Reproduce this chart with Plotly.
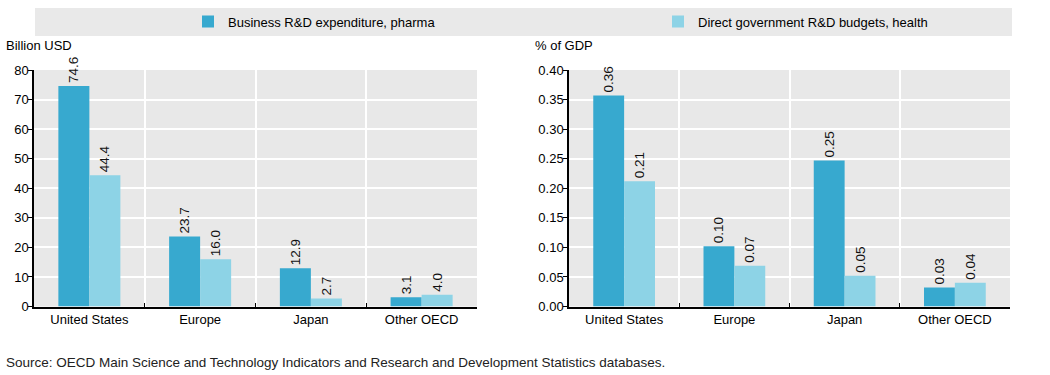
import plotly.graph_objects as go

categories = ["United States", "Europe", "Japan", "Other OECD"]
series_names = ["Business R&D expenditure, pharma", "Direct government R&D budgets, health"]
usd_business = [74.6, 23.7, 12.9, 3.1]
usd_government = [44.4, 16.0, 2.7, 4.0]
gdp_business = [0.357, 0.102, 0.247, 0.032]
gdp_government = [0.212, 0.069, 0.052, 0.040]
left_ticks = [0, 10, 20, 30, 40, 50, 60, 70, 80]
right_ticks = [0.0, 0.05, 0.10, 0.15, 0.20, 0.25, 0.30, 0.35, 0.40]

DARK = "#37A9CF"
LIGHT = "#8DD3E6"
FONT = "Liberation Sans"
W, H = 1050, 375

def px(x):
    return x / W

def py(y):
    return 1 - y / H

fig = go.Figure()

txtfont = dict(family=FONT, size=13.5, color="#111")

fig.add_trace(go.Bar(x=categories, y=usd_business, name=series_names[0], marker_color=DARK,
                     marker_line_width=0, text=[f"{v:.1f}" for v in usd_business],
                     textposition="outside", textangle=-90, textfont=txtfont, cliponaxis=False,
                     xaxis="x", yaxis="y", legend="legend", showlegend=True))
fig.add_trace(go.Bar(x=categories, y=usd_government, name=series_names[1], marker_color=LIGHT,
                     marker_line_width=0, text=[f"{v:.1f}" for v in usd_government],
                     textposition="outside", textangle=-90, textfont=txtfont, cliponaxis=False,
                     xaxis="x", yaxis="y", legend="legend2", showlegend=True))
fig.add_trace(go.Bar(x=categories, y=gdp_business, name=series_names[0], marker_color=DARK,
                     marker_line_width=0, texttemplate="%{y:.2f}",
                     textposition="outside", textangle=-90, textfont=txtfont, cliponaxis=False,
                     xaxis="x2", yaxis="y2", showlegend=False))
fig.add_trace(go.Bar(x=categories, y=gdp_government, name=series_names[1], marker_color=LIGHT,
                     marker_line_width=0, texttemplate="%{y:.2f}",
                     textposition="outside", textangle=-90, textfont=txtfont, cliponaxis=False,
                     xaxis="x2", yaxis="y2", showlegend=False))

ydom = [py(306.5), py(70)]
xaxis_common = dict(type="category", tickson="boundaries", ticks="inside", ticklen=4,
                    tickcolor="#000", showline=True, linecolor="#000", linewidth=1.5,
                    showgrid=True, gridcolor="#FFFFFF", gridwidth=1.5,
                    tickfont=dict(family=FONT, size=13, color="#000"), automargin=False,
                    fixedrange=True)
yaxis_common = dict(ticks="outside", ticklen=4, tickcolor="#000", showline=True,
                    linecolor="#000", linewidth=1.5, showgrid=True, gridcolor="#FFFFFF",
                    gridwidth=1.5, zeroline=False, domain=ydom, ticklabelstandoff=-3,
                    tickfont=dict(family=FONT, size=13, color="#000"), automargin=False,
                    fixedrange=True)

fig.update_layout(
    width=W, height=H,
    margin=dict(l=0, r=0, t=0, b=0),
    paper_bgcolor="#FFFFFF",
    plot_bgcolor="#E8E8E8",
    barmode="group",
    bargap=0.44,
    bargroupgap=0,
    font=dict(family=FONT, size=12, color="#000"),
    xaxis=dict(domain=[px(34), px(477)], anchor="y", **xaxis_common),
    yaxis=dict(anchor="x", range=[0, 80], tickvals=left_ticks,
               ticktext=[str(v) for v in left_ticks], **yaxis_common),
    xaxis2=dict(domain=[px(569), px(1010)], anchor="y2", **xaxis_common),
    yaxis2=dict(anchor="x2", range=[0, 0.40], tickvals=right_ticks,
                ticktext=[f"{v:.2f}" for v in right_ticks], **yaxis_common),
    legend=dict(x=px(188), y=py(21.5), xanchor="left", yanchor="middle",
                orientation="h", bgcolor="rgba(0,0,0,0)",
                font=dict(family=FONT, size=13, color="#000")),
    legend2=dict(x=px(658), y=py(21.5), xanchor="left", yanchor="middle",
                 orientation="h", bgcolor="rgba(0,0,0,0)",
                 font=dict(family=FONT, size=13, color="#000")),
    shapes=[dict(type="rect", xref="paper", yref="paper", x0=px(35), x1=px(1012),
                 y0=py(36), y1=py(8), fillcolor="#E9E9E9", line_width=0, layer="below")],
    annotations=[
        dict(text="Billion USD", xref="paper", yref="paper", x=px(4), y=py(45),
             xanchor="left", yanchor="middle", showarrow=False,
             font=dict(family=FONT, size=13, color="#000")),
        dict(text="% of GDP", xref="paper", yref="paper", x=px(533), y=py(45),
             xanchor="left", yanchor="middle", showarrow=False,
             font=dict(family=FONT, size=13, color="#000")),
        dict(text="Source: OECD Main Science and Technology Indicators and Research and Development Statistics databases.",
             xref="paper", yref="paper", x=px(4), y=py(362), xanchor="left", yanchor="middle",
             showarrow=False, font=dict(family=FONT, size=13.5, color="#222")),
    ],
)

fig.write_html("out.html", config={"displayModeBar": False},
               post_script="document.body.style.margin='0';document.body.style.overflow='hidden';")
